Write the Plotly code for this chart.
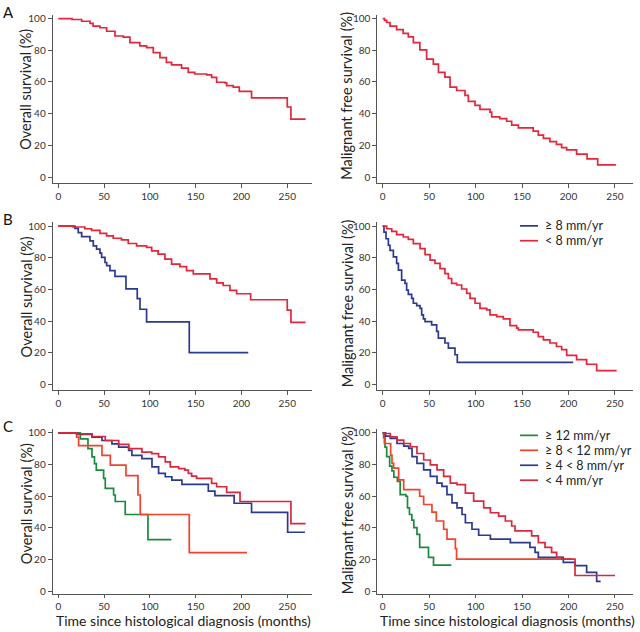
import plotly.graph_objects as go

# ---------------- data ----------------
# Panel A – all patients
A_os_t = [0, 15, 25.5, 34.6, 38, 45.5, 52.8, 61.9, 71, 78.2, 89, 96.4, 103.7, 111, 118, 123.7,
          134.6, 141.9, 149, 162, 167.4, 172.9, 182, 183.8, 191, 197.6, 211, 250, 254, 270]
A_os_s = [100, 99.4, 98.3, 96.9, 95.2, 94.2, 92, 89, 88.3, 84.8, 82.7, 81.7, 78.5, 75.4, 72.3, 70.8,
          68.75, 66, 65, 64.4, 62.9, 59.8, 59.4, 57.7, 56.7, 54, 50, 44.2, 36.5, 36.5]

A_mfs_t = [0, 2, 4.3, 7.9, 15, 22, 27.6, 33, 40, 47.3, 54.5, 60, 67, 72.5, 79.6, 88.6, 92.2, 99.4,
           104.7, 115.5, 117.3, 126, 133.4, 138.8, 146, 162, 167.5, 173, 180, 187, 192.6, 198,
           208.7, 220, 231.4, 251]
A_mfs_s = [100, 98.8, 97.5, 95.2, 93, 90.6, 88.5, 84.8, 80.2, 74.4, 71.25, 66, 63, 56.7, 54.6, 51.5,
           47.7, 45.2, 42.7, 41, 37.9, 36.9, 35.2, 32.7, 31, 29, 26.5, 24.4, 22.3, 20.6, 18.5, 17.1,
           14.4, 11.5, 7.7, 7.7]

# Panel B – growth rate >= 8 / < 8 mm/yr
B_os_hi_t = [0, 18.2, 21.8, 25.5, 34.6, 38.2, 41.8, 45.5, 47.3, 51, 52.8, 56.4, 61.9, 73.9, 86.2,
             89.2, 96.4, 143, 207.4]
B_os_hi_s = [100, 98.5, 95.8, 93.3, 90.6, 87.5, 85.4, 82.9, 80.2, 77, 75, 71.9, 68.3, 60.4, 54.2,
             47.5, 39.6, 20.2, 20.2]
B_os_lo_t = [0, 16, 29, 36.4, 45.5, 52.8, 60, 69, 76.4, 85.5, 96.4, 102, 109, 116.4, 123.7, 132.8,
             140, 147.4, 165.6, 172.9, 180, 187.4, 194.7, 210, 250, 254, 270]
B_os_lo_s = [100, 99.4, 98.3, 97.3, 95.4, 93.75, 92.3, 91.25, 89, 87.5, 86.5, 84.4, 82.3, 79.2, 76,
             74.4, 71.9, 69.8, 66.7, 64.2, 62.5, 59.4, 57.3, 53.5, 46.9, 39.2, 39.2]

B_mfs_hi_t = [0, 1.4, 3.6, 6.1, 7.9, 11.5, 15, 16.9, 20.4, 24, 25.8, 27.6, 31.2, 33, 36.6, 40.2, 42,
              43.8, 45.6, 52.7, 58.1, 59.9, 67, 70.7, 77.8, 80.3, 205]
B_mfs_hi_s = [100, 96.2, 92, 87.9, 84.7, 80.5, 76.4, 72.2, 65.9, 63.8, 59.6, 56.9, 54.4, 51.3, 49.8,
              48.1, 43.9, 41.4, 39.7, 37.7, 33.5, 29.3, 26.2, 23, 18.8, 14, 14]
B_mfs_lo_t = [0, 4.3, 9.7, 15, 22.2, 27.6, 33, 40.2, 45.6, 51, 56.3, 61.7, 67, 70.7, 74.2, 79.6, 85,
              90.4, 94, 99.4, 104.7, 112, 115.5, 122.7, 129.8, 137, 144.2, 146, 162, 167.5, 173,
              180, 187, 192.6, 198, 208.7, 219.5, 230.3, 251.8]
B_mfs_lo_s = [100, 98.3, 96.7, 94.6, 93.1, 91.6, 88.9, 85.8, 82, 78.5, 76.4, 73.2, 70, 66.9, 63.8,
              62.8, 60.3, 57.5, 54.4, 51.3, 48.1, 47.1, 43.9, 42.9, 41.4, 37.2, 35.6, 34.5, 33,
              30.3, 28.2, 26.2, 24, 22, 18.4, 15.7, 12.8, 8.8, 8.8]

# Panel C – four growth-rate groups
C_os_g12_t = [0, 24, 32.4, 36.8, 39.5, 41.5, 49.5, 51.3, 60.4, 62.2, 73.1, 97.9, 123.4]
C_os_g12_s = [100, 96.25, 90, 84.8, 80.6, 76.5, 71.25, 65, 60.8, 56.7, 48.5, 32.7, 32.7]
C_os_g8_t = [0, 20, 22.2, 47.7, 56.8, 73.9, 87, 89.5, 143, 206]
C_os_g8_s = [100, 97.3, 92, 85.8, 79.6, 73, 60.8, 48.5, 24.4, 24.4]
C_os_g4_t = [0, 20.4, 36.8, 47.7, 58.6, 65.9, 76.8, 80.4, 91.3, 102.3, 109.5, 116.8, 124, 135,
             163.8, 171, 192, 211, 250.4, 269.3]
C_os_g4_s = [100, 99, 97.3, 95.2, 93.1, 91, 89, 85.8, 83.75, 78.5, 74.4, 72.3, 70.2, 67.5, 63.3,
             60.4, 55.6, 49.8, 37.3, 37.3]
C_os_l4_t = [0, 20, 36.8, 51.3, 66, 77, 91.3, 102, 109.5, 116.8, 122.3, 131.4, 138.3, 142, 145.6,
             151, 167.4, 172.9, 183.8, 198.4, 254, 270]
C_os_l4_s = [100, 99.4, 97.7, 95.2, 92.7, 90, 87.9, 86.9, 84.8, 81.7, 78.5, 77.5, 76.5, 74.4, 72.7,
             71.25, 68.1, 66, 62.5, 56.7, 42.7, 42.7]

C_mfs_g12_t = [0, 1, 2.5, 4.3, 7.5, 10, 12, 15.8, 18.8, 25, 26.7, 28.8, 31.4, 33.5, 36.9, 39.8,
               49.3, 54.7, 73.8]
C_mfs_g12_s = [100, 97, 91, 85, 79, 76, 72, 69.4, 61, 60, 52.7, 48.5, 45, 40.2, 36, 27.7, 21.5,
               16.5, 16.5]
C_mfs_g8_t = [0, 1.8, 8.6, 10, 11.8, 17.2, 22.6, 39.8, 44.1, 53, 57.7, 65.6, 69.2, 78.2, 79.5, 203]
C_mfs_g8_s = [100, 93.3, 86, 80.8, 77.7, 70.4, 64.2, 60, 54.8, 50, 44.4, 39.2, 32.9, 27, 20.4, 20.4]
C_mfs_g4_t = [0, 3, 8.2, 15.4, 22.6, 28, 31.6, 36.9, 44.1, 51.3, 58.5, 63.8, 69.2, 74.6, 80, 85.4,
              89, 96.1, 103.3, 115.9, 137.4, 158.5, 164, 167.5, 194.4, 207, 219.5, 230.3, 234.6]
C_mfs_g4_s = [100, 98, 96.5, 93.3, 91.7, 90.2, 85, 80.8, 76.7, 72.5, 68.3, 66.25, 61, 55.8, 52.7,
              48.5, 43.3, 39.2, 35.4, 32.9, 30.8, 27.7, 24.6, 21.5, 18.3, 16.25, 12, 6.25, 6.25]
C_mfs_l4_t = [0, 1.1, 8.2, 15.4, 22.6, 29.8, 36.9, 44.1, 51.3, 58.5, 65.6, 72.8, 80, 89, 97.9,
              108.7, 115.9, 124.8, 132, 138.8, 142.4, 160.3, 167.5, 174.7, 181.8, 187.2, 192.6,
              207, 250]
C_mfs_l4_s = [100, 99.6, 97.5, 95.4, 93.3, 91.25, 87, 82.9, 79.8, 76.7, 72.5, 68.3, 67.3, 62, 56.9,
              52.7, 49.6, 47.5, 44.4, 41.25, 38.1, 35, 30.8, 27.7, 24.6, 21.5, 20.4, 10, 10]

B_names = ["≥ 8 mm/yr", "< 8 mm/yr"]
C_names = ["≥ 12 mm/yr", "≥ 8 < 12 mm/yr", "≥ 4 < 8 mm/yr", "< 4 mm/yr"]
panel_letters = ["A", "B", "C"]
os_title = "Overall survival (%)"
mfs_title = "Malignant free survival (%)"
x_title = "Time since histological diagnosis (months)"
x_ticks = [0, 50, 100, 150, 200, 250]
y_ticks = [0, 20, 40, 60, 80, 100]

# ---------------- styling ----------------
RED = "#E3263A"
BLUE = "#2B3A8F"
GREEN = "#1A8A3C"
ORANGE = "#F0432C"
CRIMSON = "#D9283E"
B_colors = [BLUE, RED]
C_colors = [GREEN, ORANGE, BLUE, CRIMSON]
FONT = "Lato"
LW = 1.7

W, H = 640, 632


def fx(p):
    return p / W


def fy(p):
    return 1 - p / H


# row pixel geometry: (top px, bottom px, y-px of 100 %, y-px of 0 %)
rows = [(12, 181.3, 15.7, 175.7), (221.5, 390.6, 225.2, 385.2), (430.3, 597.0, 434.0, 594.0)]
left_dom = (52.7, 312.0)
right_dom = (377.3, 633.0)
left_rng = [-6.1, 277]
right_rng = [-5.8, 269.4]

panels = [
    (0, 0, [(A_os_t, A_os_s, RED)]),
    (0, 1, [(A_mfs_t, A_mfs_s, RED)]),
    (1, 0, [(B_os_hi_t, B_os_hi_s, BLUE), (B_os_lo_t, B_os_lo_s, RED)]),
    (1, 1, [(B_mfs_hi_t, B_mfs_hi_s, BLUE), (B_mfs_lo_t, B_mfs_lo_s, RED)]),
    (2, 0, [(C_os_g12_t, C_os_g12_s, GREEN), (C_os_g8_t, C_os_g8_s, ORANGE),
            (C_os_g4_t, C_os_g4_s, BLUE), (C_os_l4_t, C_os_l4_s, CRIMSON)]),
    (2, 1, [(C_mfs_g12_t, C_mfs_g12_s, GREEN), (C_mfs_g8_t, C_mfs_g8_s, ORANGE),
            (C_mfs_g4_t, C_mfs_g4_s, BLUE), (C_mfs_l4_t, C_mfs_l4_s, CRIMSON)]),
]

fig = go.Figure()
axis_common = dict(showline=True, linecolor="#555", linewidth=1, ticks="outside", ticklen=4,
                   tickcolor="#555", tickwidth=1, showgrid=False, zeroline=False,
                   tickfont=dict(family=FONT, size=10, color="#333"), fixedrange=True)
layout_axes = {}
for i, (r, c, curves) in enumerate(panels, start=1):
    top, bot, y100, y0 = rows[r]
    ppu = (y0 - y100) / 100.0
    y_rng = [-(bot - y0) / ppu, 100 + (y100 - top) / ppu]
    dom = left_dom if c == 0 else right_dom
    rng = left_rng if c == 0 else right_rng
    sfx = "" if i == 1 else str(i)
    layout_axes["xaxis" + sfx] = dict(axis_common, domain=[fx(dom[0]), fx(dom[1])], range=rng,
                                      tickvals=x_ticks, anchor="y" + sfx,
                                      ticklen=3 if r == 2 else 4)
    layout_axes["yaxis" + sfx] = dict(axis_common, domain=[fy(bot), fy(top)], range=y_rng,
                                      tickvals=y_ticks, anchor="x" + sfx)
    for t, s, col in curves:
        fig.add_trace(go.Scatter(x=t, y=s, mode="lines",
                                 line=dict(shape="hv", color=col, width=LW),
                                 xaxis="x" + sfx, yaxis="y" + sfx,
                                 showlegend=False, hoverinfo="skip"))

annotations = []
for r, letter in enumerate(panel_letters):
    top, bot, y100, y0 = rows[r]
    annotations.append(dict(text=letter, x=fx(8), y=fy(y100 - 7), xref="paper", yref="paper",
                            showarrow=False, xanchor="center", yanchor="middle",
                            font=dict(family=FONT, size=15, color="#111")))
    annotations.append(dict(text=os_title, x=fx(26), y=fy(y100 + 72), xref="paper",
                            yref="paper", showarrow=False, textangle=-90, xanchor="center",
                            yanchor="middle", font=dict(family=FONT, size=14.5, color="#222")))
    annotations.append(dict(text=mfs_title, x=fx(347), y=fy(y100 + 78), xref="paper",
                            yref="paper", showarrow=False, textangle=-90, xanchor="center",
                            yanchor="middle", font=dict(family=FONT, size=14.5, color="#222")))
for cx in (183, 507.5):
    annotations.append(dict(text=x_title, x=fx(cx), y=fy(623.6), xref="paper", yref="paper",
                            showarrow=False, xanchor="center", yanchor="middle", borderpad=0,
                            font=dict(family=FONT, size=14, color="#222")))

shapes = []


def add_legend(names, colors, y_first, gap):
    for k, (nm, col) in enumerate(zip(names, colors)):
        yy = y_first + k * gap
        shapes.append(dict(type="line", xref="paper", yref="paper", x0=fx(520), x1=fx(538),
                           y0=fy(yy), y1=fy(yy), line=dict(color=col, width=LW)))
        annotations.append(dict(text=nm, x=fx(544), y=fy(yy), xref="paper", yref="paper",
                                showarrow=False, xanchor="left", yanchor="middle", borderpad=0,
                                font=dict(family=FONT, size=12.5, color="#222")))


add_legend(B_names, B_colors, 225.0, 15.0)
add_legend(C_names, C_colors, 436.5, 15.1)

fig.update_layout(width=W, height=H, margin=dict(l=0, r=0, t=0, b=0),
                  paper_bgcolor="white", plot_bgcolor="white",
                  annotations=annotations, shapes=shapes, **layout_axes)

fig.write_html("out.html", config={"displayModeBar": False, "staticPlot": True},
               post_script="document.body.style.margin='0';")
